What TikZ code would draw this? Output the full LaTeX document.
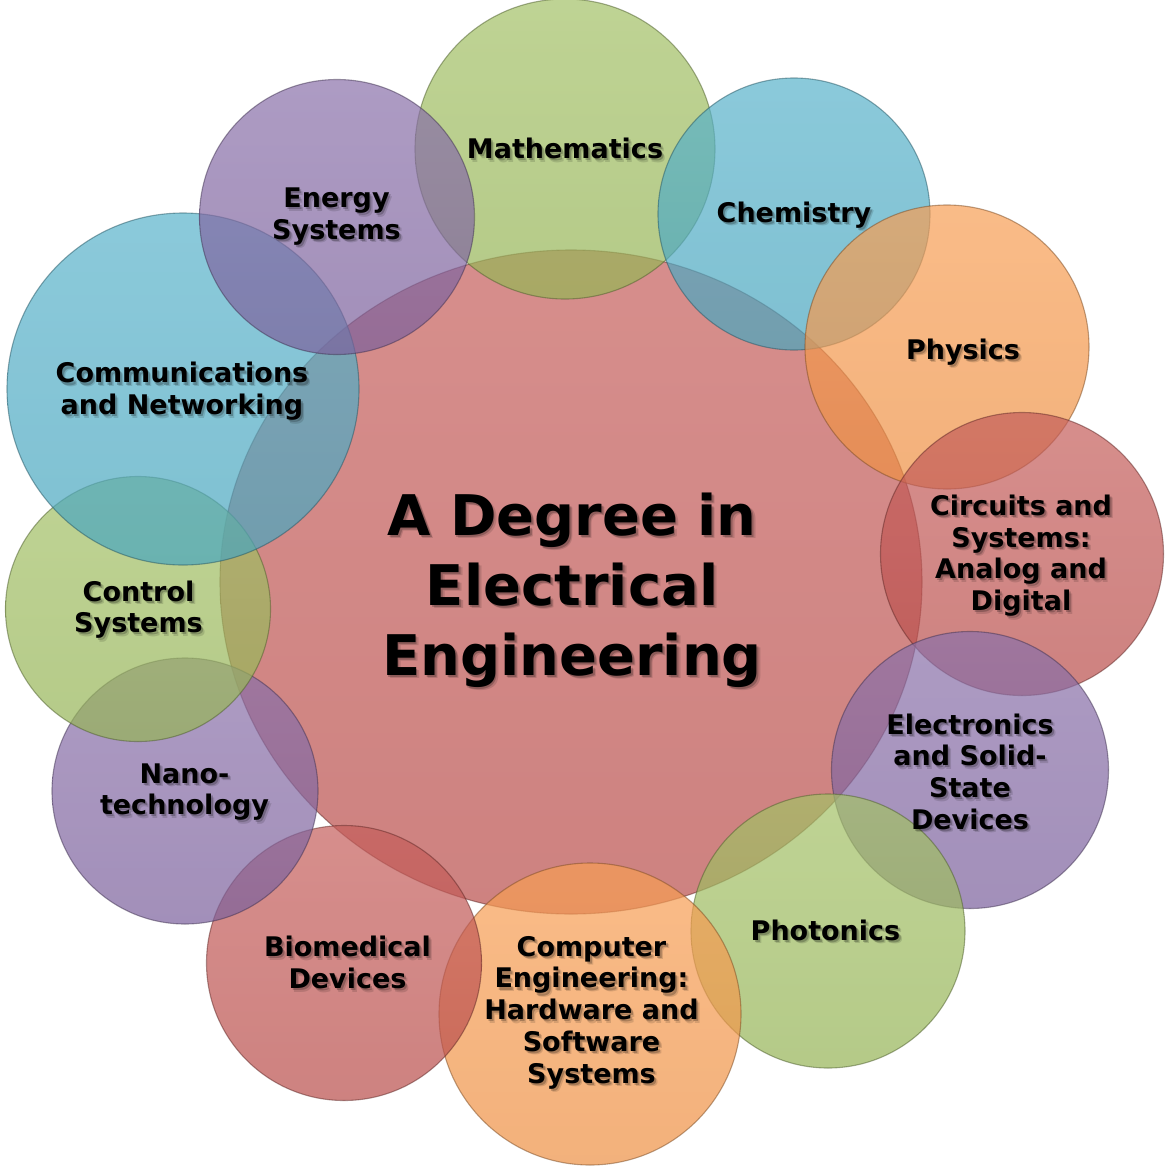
\documentclass[tikz,border=0pt]{standalone}
\usepackage{fontspec}
\setmainfont{DejaVu Sans}
\usetikzlibrary{shapes.geometric}

% Office-style theme colours
\definecolor{cRed}{HTML}{C0504D}
\definecolor{cGreen}{HTML}{9BBB59}
\definecolor{cPurple}{HTML}{8064A2}
\definecolor{cAqua}{HTML}{4BACC6}
\definecolor{cOrange}{HTML}{F79646}

\tikzset{
  bubble/.style={top color=#1!92!white, bottom color=#1!96!black,
    fill opacity=0.7, draw=#1!50!black, draw opacity=0.5,
    line width=1.1pt, inner sep=0pt, outer sep=0pt},
  lbl/.style={font=\bfseries\fontsize{27}{31.7}\selectfont, align=center,
    text=black, inner sep=0pt},
  ttl/.style={font=\bfseries\fontsize{56}{70}\selectfont, align=center,
    text=black, inner sep=0pt},
}

% label with a soft drop shadow: [style]{name}{x}{y}{text}
\newcommand\bubblelabel[5][lbl]{%
  \node[#1, text opacity=0.13] (#2-shadow2) at (#3+3.2,#4+3.6) {#5};
  \node[#1, text opacity=0.22] (#2-shadow) at (#3+1.8,#4+2.2) {#5};
  \node[#1] (#2) at (#3,#4) {#5};
}

\begin{document}
\begin{tikzpicture}[x=1pt,y=-1pt]
\useasboundingbox (0,0) rectangle (1167,1165);

% central area
\node[bubble=cRed, ellipse, minimum width=702pt, minimum height=664pt] (hub) at (571,582) {};

% surrounding disciplines
\node[bubble=cGreen,  circle, minimum size=300pt] (math)  at (565,149)  {};
\node[bubble=cAqua,   circle, minimum size=272pt] (chem)  at (794,214)  {};
\node[bubble=cOrange, circle, minimum size=284pt] (phys)  at (947,347)  {};
\node[bubble=cRed,    circle, minimum size=283pt] (circ)  at (1022,554) {};
\node[bubble=cPurple, circle, minimum size=277pt] (elec)  at (970,770)  {};
\node[bubble=cGreen,  circle, minimum size=274pt] (phot)  at (828,931)  {};
\node[bubble=cOrange, circle, minimum size=302pt] (comp)  at (590,1014) {};
\node[bubble=cRed,    circle, minimum size=275pt] (bio)   at (344,963)  {};
\node[bubble=cPurple, circle, minimum size=266pt] (nano)  at (185,791)  {};
\node[bubble=cGreen,  circle, minimum size=265pt] (ctrl)  at (138,609)  {};
\node[bubble=cAqua,   circle, minimum size=352pt] (comm)  at (183,389)  {};
\node[bubble=cPurple, circle, minimum size=275pt] (enrg)  at (337,217)  {};

% texts
\bubblelabel[ttl]{title}{572}{590}{A Degree in\\Electrical\\Engineering}
\bubblelabel{mathL}{565}{148.5}{Mathematics}
\bubblelabel{chemL}{794}{215}{Chemistry}
\bubblelabel{physL}{963}{352}{Physics}
\bubblelabel{circL}{1021}{555.5}{Circuits and\\Systems:\\Analog and\\Digital}
\bubblelabel{elecL}{970}{771.5}{Electronics\\and Solid-\\State\\Devices}
\bubblelabel{photL}{825.5}{930}{Photonics}
\bubblelabel{compL}{591.5}{1012.5}{Computer\\Engineering:\\Hardware and\\Software\\Systems}
\bubblelabel{bioL}{347.5}{962.5}{Biomedical\\Devices}
\bubblelabel{nanoL}{184.5}{792}{Nano-\\technology}
\bubblelabel{ctrlL}{138.5}{609.5}{Control\\Systems}
\bubblelabel{commL}{182}{391.5}{Communications\\and Networking}
\bubblelabel{enrgL}{336.5}{216.5}{Energy\\Systems}
\end{tikzpicture}
\end{document}
